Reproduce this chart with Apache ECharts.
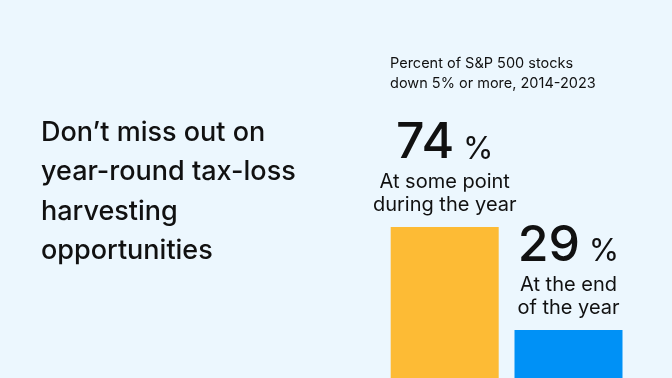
<!DOCTYPE html>
<html>
<head>
<meta charset="utf-8">
<script src="https://cdn.jsdelivr.net/npm/echarts@6/dist/echarts.min.js"></script>
<style>
html,body{margin:0;padding:0;background:#ECF7FE;}
#c{width:672px;height:378px;}
</style>
</head>
<body>
<div id="c"></div>
<script>
const categories = ['At some point during the year', 'At the end of the year'];
const values = [74, 29];
const labelLines = [['At some point', 'during the year'], ['At the end', 'of the year']];
const barColors = ['#FDBB35', '#0091F6'];
const titleText = 'Don\u2019t miss out on\nyear-round tax-loss\nharvesting\nopportunities';
const subtitleText = 'Percent of S&P 500 stocks\ndown 5% or more, 2014-2023';

const chart = echarts.init(document.getElementById('c'));
chart.setOption({
  backgroundColor: '#ECF7FE',
  animation: false,
  title: [
    { text: titleText, left: 36, top: 108,
      textStyle: { fontFamily: 'Inter', fontSize: 27, fontWeight: 500, color: '#111', lineHeight: 39.5 } },
    { text: subtitleText, left: 385, top: 49,
      textStyle: { fontFamily: 'Inter', fontSize: 14.5, fontWeight: 400, color: '#111', lineHeight: 20 } }
  ],
  grid: { left: 382.8, width: 247.6, top: 167.5, bottom: 0 },
  xAxis: { type: 'category', data: categories, show: false },
  yAxis: { type: 'value', min: 8, max: 100, show: false },
  series: [{
    type: 'bar',
    barWidth: 108,
    data: values.map((v, i) => ({ value: v, itemStyle: { color: barColors[i] } })),
    label: {
      show: true,
      position: 'top',
      distance: 10,
      align: 'center',
      formatter: p => '{n|' + p.value + '}{p| %}\n' + labelLines[p.dataIndex].map(s => '{t|' + s + '}').join('\n'),
      rich: {
        n: { fontFamily: 'Inter', fontSize: 50, fontWeight: 500, color: '#111', lineHeight: 54 },
        p: { fontFamily: 'Inter', fontSize: 31, fontWeight: 400, color: '#111', lineHeight: 54, padding: [12, 0, 0, 0] },
        t: { fontFamily: 'Inter', fontSize: 20, fontWeight: 400, color: '#111', lineHeight: 23.4 }
      }
    }
  }]
});
</script>
</body>
</html>
